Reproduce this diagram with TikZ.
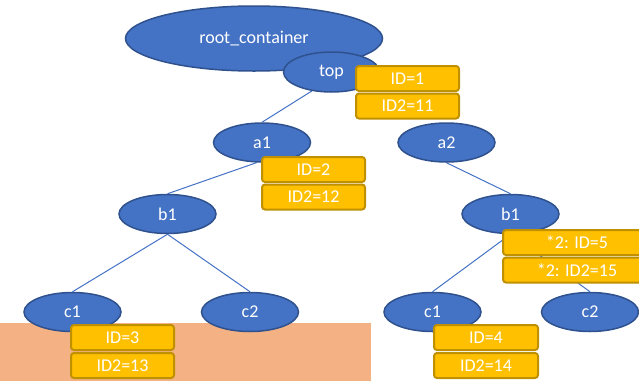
\documentclass[tikz,border=0pt]{standalone}
\usepackage{fontspec}
\setmainfont{Carlito}
\usetikzlibrary{shapes.geometric}
\definecolor{nodeblue}{HTML}{4472C4}
\definecolor{nodeedge}{HTML}{2F528F}
\definecolor{tagfill}{HTML}{FFC000}
\definecolor{tagedge}{HTML}{BF9000}
\definecolor{zone}{HTML}{F4B183}
\pgfdeclarelayer{bg}
\pgfsetlayers{bg,main}
\begin{document}
\begin{tikzpicture}[x=1pt,y=-1pt,
  blob/.style={ellipse, fill=nodeblue, draw=nodeedge, line width=1.5pt,
    minimum width=97pt, minimum height=39pt, inner sep=0pt, text=white,
    font=\fontsize{18}{20}\selectfont},
  tag/.style={rectangle, rounded corners=3pt, fill=tagfill, draw=tagedge,
    line width=2pt, minimum width=102pt, minimum height=25pt, inner sep=0pt,
    text=white, font=\fontsize{18}{20}\selectfont},
  link/.style={draw=nodeblue, line width=1pt}]
\useasboundingbox (0,0) rectangle (639,381);
\clip (0,0) rectangle (639,381);

% shaded zone along the bottom left
\begin{pgfonlayer}{bg}
  \fill[zone] (0,323) rectangle (371,381);
\end{pgfonlayer}

% tree nodes
\node[blob, minimum width=257pt, minimum height=65pt] (root) at (254,38.5) {root\_container};
\node[blob, minimum width=96pt, minimum height=40pt] (top) at (331.5,72) {top};
\node[blob] (a1) at (262,142.5) {a1};
\node[blob] (a2) at (446.5,142.5) {a2};
\node[blob] (b1l) at (167.5,214) {b1};
\node[blob] (b1r) at (510.5,214) {b1};
\node[blob] (c1l) at (72.5,312) {c1};
\node[blob] (c2l) at (250,312) {c2};
\node[blob] (c1r) at (432.5,312) {c1};
\node[blob] (c2r) at (590,312) {c2};

% connectors, kept behind the nodes
\begin{pgfonlayer}{bg}
  \draw[link] (top.224) -- (a1.north);
  \draw[link] (a1.255) -- (b1l.north);
  \draw[link] (a2.south) -- (b1r.north);
  \draw[link] (b1l.south) -- (c1l.north);
  \draw[link] (b1l.south) -- (c2l.north);
  \draw[link] (b1r.south) -- (c1r.north);
  \draw[link] (b1r.south) -- (c2r.north);
\end{pgfonlayer}

% id tags
\node[tag, minimum width=103pt] (t1a) at (407.5,78.5) {ID=1};
\node[tag, minimum width=103pt] (t1b) at (407.5,106) {ID2=11};
\node[tag, minimum width=103pt] (t2a) at (313.5,169.5) {ID=2};
\node[tag, minimum width=103pt] (t2b) at (313.5,197) {ID2=12};
\node[tag, minimum width=148pt] (t5a) at (577,242.5) {*2: ID=5};
\node[tag, minimum width=148pt] (t5b) at (577,270) {*2: ID2=15};
\node[tag, minimum width=103pt] (t3a) at (122.5,337.5) {ID=3};
\node[tag, minimum width=103pt] (t3b) at (122.5,365.5) {ID2=13};
\node[tag, minimum width=104pt] (t4a) at (486,337.5) {ID=4};
\node[tag, minimum width=104pt] (t4b) at (486,365.5) {ID2=14};
\end{tikzpicture}
\end{document}
